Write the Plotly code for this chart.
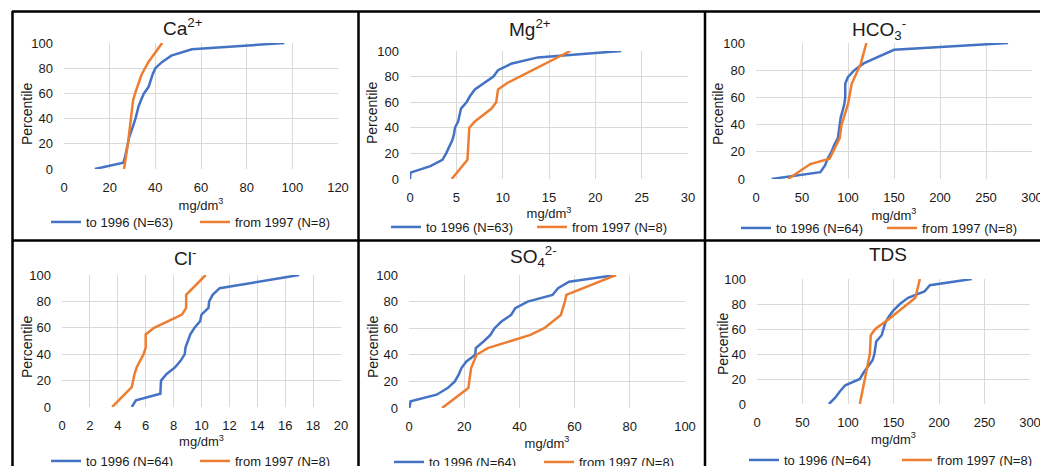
import plotly.graph_objects as go

W, H = 1040, 466

# ---------------- data (value, percentile) ----------------
pct21 = [0, 5, 10, 15, 20, 25, 30, 35, 40, 45, 50, 55, 60, 65, 70, 75, 80, 85, 90, 95, 100]

ca_old = [13.5, 26, 26.8, 27.3, 27.8, 28.5, 29.5, 30.5, 31.3, 32, 32.7, 33.8, 35, 37, 37.8, 38.8, 40, 43, 47, 56, 96.5]
ca_new_x = [26.3, 28, 29.3, 30.3, 31.5, 34, 37, 43]
ca_new_p = [0, 20, 40, 55, 62, 75, 85, 100]

mg_old = [0, 0.05, 2.2, 3.5, 3.9, 4.2, 4.55, 4.75, 4.85, 5.2, 5.35, 5.5, 6.1, 6.5, 7, 8, 9, 9.5, 10.9, 13.8, 22.8]
mg_new_x = [4.5, 6.2, 6.4, 7, 8.8, 9.3, 9.5, 10.5, 17.3]
mg_new_p = [0, 15, 40, 45, 55, 60, 70, 75, 100]

hco3_old = [17, 70, 75, 78, 82, 85, 89, 90, 90.5, 92, 94, 96, 97, 97, 97, 100, 107, 117, 133, 150, 274]
hco3_new_x = [35, 59, 80, 91, 93, 100, 104, 114, 120]
hco3_new_p = [0, 11, 15, 30, 40, 55, 70, 85, 100]

cl_old = [5, 5.3, 7.05, 7.07, 7.1, 7.5, 8.1, 8.5, 8.8, 8.85, 9, 9.2, 9.5, 9.9, 10, 10.5, 10.55, 10.8, 11.3, 14.1, 17]
cl_new_x = [3.6, 5, 5.2, 5.35, 5.85, 6, 6, 6.6, 8.6, 8.9, 8.9, 10.3]
cl_new_p = [0, 15, 25, 30, 40, 45, 55, 60, 70, 75, 85, 100]

so4_old = [0.1, 0.6, 10, 14, 16.6, 18, 19, 20.8, 24, 24.2, 27, 29.5, 31, 33.5, 37, 38.5, 43, 52, 54, 58, 75]
so4_new_x = [12, 21.5, 22.5, 24.5, 28.5, 44, 49, 55, 56.5, 57, 75]
so4_new_p = [0, 15, 30, 40, 45, 55, 60, 70, 80, 85, 100]

tds_old = [79, 86, 91, 97, 113, 117, 122, 127, 129, 130, 131, 137, 139, 141, 145, 150, 157, 166, 184, 190, 236]
tds_new_x = [113, 121, 124, 125, 130, 145, 174, 179]
tds_new_p = [0, 30, 40, 55, 60, 68, 85, 100]

titles = ["Ca<sup>2+</sup>", "Mg<sup>2+</sup>", "HCO<sub>3</sub><sup>-</sup>",
          "Cl<sup>-</sup>", "SO<sub>4</sub><sup>2-</sup>", "TDS"]
n_old = [63, 63, 64, 64, 64, 64]
n_new = [8, 8, 8, 8, 8, 8]
x_ranges = [[0, 120], [0, 30], [0, 300], [0, 20], [0, 100], [0, 300]]
x_dticks = [20, 5, 50, 2, 20, 50]
y_ticks = [0, 20, 40, 60, 80, 100]

old_series = [ca_old, mg_old, hco3_old, cl_old, so4_old, tds_old]
new_series = [(ca_new_x, ca_new_p), (mg_new_x, mg_new_p), (hco3_new_x, hco3_new_p),
              (cl_new_x, cl_new_p), (so4_new_x, so4_new_p), (tds_new_x, tds_new_p)]

# ---------------- layout geometry (pixels) ----------------
# plot areas: (left, right, top, bottom)
boxes = [(64, 338, 43, 169), (410, 688, 51, 179), (756, 1032, 43, 179),
         (62, 341, 275, 407), (409, 685, 275, 408), (757, 1030, 279, 404)]
title_pos = [(183, 27), (530, 28), (879, 29), (185, 257), (533, 256), (888, 255)]
ytitle_pos = [(27, 114), (372, 113), (718, 114), (27, 347), (373, 347), (723, 344)]
xtitle_standoff = [6, 1, 6, 4, 5, 5]
legend_pos = [(52, 222, 151), (392, 227, 148), (742, 228, 148),
              (52, 461, 151), (395, 462, 152), (750, 460, 155)]

BLUE = "#4472C4"
ORANGE = "#ED7D31"
FONT = "Liberation Sans, Arial, sans-serif"
TXT = "#1a1a1a"


def px(x):
    return x / W


def py(y):
    return 1 - y / H


fig = go.Figure()
layout = dict(
    width=W, height=H,
    margin=dict(l=0, r=0, t=0, b=0, pad=0, autoexpand=False),
    paper_bgcolor="white", plot_bgcolor="white",
    font=dict(family=FONT, size=13, color=TXT),
    annotations=[], shapes=[],
)

for i in range(6):
    k = "" if i == 0 else str(i + 1)
    lg = "legend" if i == 0 else "legend" + str(i + 1)
    fig.add_trace(go.Scatter(
        x=old_series[i], y=pct21, mode="lines",
        line=dict(color=BLUE, width=2.5),
        name="to 1996 (N=%d)" % n_old[i],
        xaxis="x" + k, yaxis="y" + k, legend=lg))
    nx, npct = new_series[i]
    fig.add_trace(go.Scatter(
        x=nx, y=npct, mode="lines",
        line=dict(color=ORANGE, width=2.5),
        name="from 1997 (N=%d)" % n_new[i],
        xaxis="x" + k, yaxis="y" + k, legend=lg))

    l, r, t, b = boxes[i]
    layout["xaxis" + k] = dict(
        domain=[px(l), px(r)], range=x_ranges[i], dtick=x_dticks[i], tick0=0,
        anchor="y" + k, showgrid=True, gridcolor="#d9d9d9", gridwidth=1,
        zeroline=False, showline=False, ticks="", ticklabelstandoff=9,
        ticklabeloverflow="allow",
        tickfont=dict(size=13, color=TXT), automargin=False,
        title=dict(text="mg/dm<sup>3</sup>", font=dict(size=13, color=TXT),
                   standoff=xtitle_standoff[i]),
        fixedrange=True)
    layout["yaxis" + k] = dict(
        domain=[py(b), py(t)], range=[0, 100], tickvals=y_ticks,
        anchor="x" + k, showgrid=True, gridcolor="#d9d9d9", gridwidth=1,
        zeroline=False, showline=False, ticks="", ticklabelstandoff=10,
        ticklabeloverflow="allow",
        tickfont=dict(size=13, color=TXT), automargin=False,
        fixedrange=True)

    tx, ty = title_pos[i]
    layout["annotations"].append(dict(
        text=titles[i], x=px(tx), y=py(ty), xref="paper", yref="paper",
        showarrow=False, font=dict(size=19, color=TXT),
        xanchor="center", yanchor="middle"))
    yx, yy = ytitle_pos[i]
    layout["annotations"].append(dict(
        text="Percentile", x=px(yx), y=py(yy), xref="paper", yref="paper",
        showarrow=False, font=dict(size=14, color=TXT), textangle=-90,
        xanchor="center", yanchor="middle"))

    lx, ly, ew = legend_pos[i]
    layout[lg] = dict(
        x=px(lx - 6), y=py(ly), xanchor="left", yanchor="middle",
        orientation="h", bgcolor="rgba(0,0,0,0)", borderwidth=0,
        font=dict(size=13, color=TXT), entrywidth=ew - 47, entrywidthmode="pixels",
        itemwidth=30, tracegroupgap=0)

# table borders
bw = 2.5
for (x0, y0, x1, y1) in [(12, 11.5, W, 11.5), (12, 240.5, W, 240.5),
                         (12.5, 11, 12.5, H), (358.5, 11, 358.5, H), (705, 11, 705, H)]:
    layout["shapes"].append(dict(
        type="line", xref="paper", yref="paper",
        x0=px(x0), y0=py(y0), x1=px(x1), y1=py(y1),
        line=dict(color="black", width=bw)))

fig.update_layout(**layout)
fig.write_html(
    "out.html",
    config={"displayModeBar": False, "staticPlot": True},
    post_script="document.body.style.margin='0';document.body.style.padding='0';"
                "document.body.style.overflow='hidden';")
